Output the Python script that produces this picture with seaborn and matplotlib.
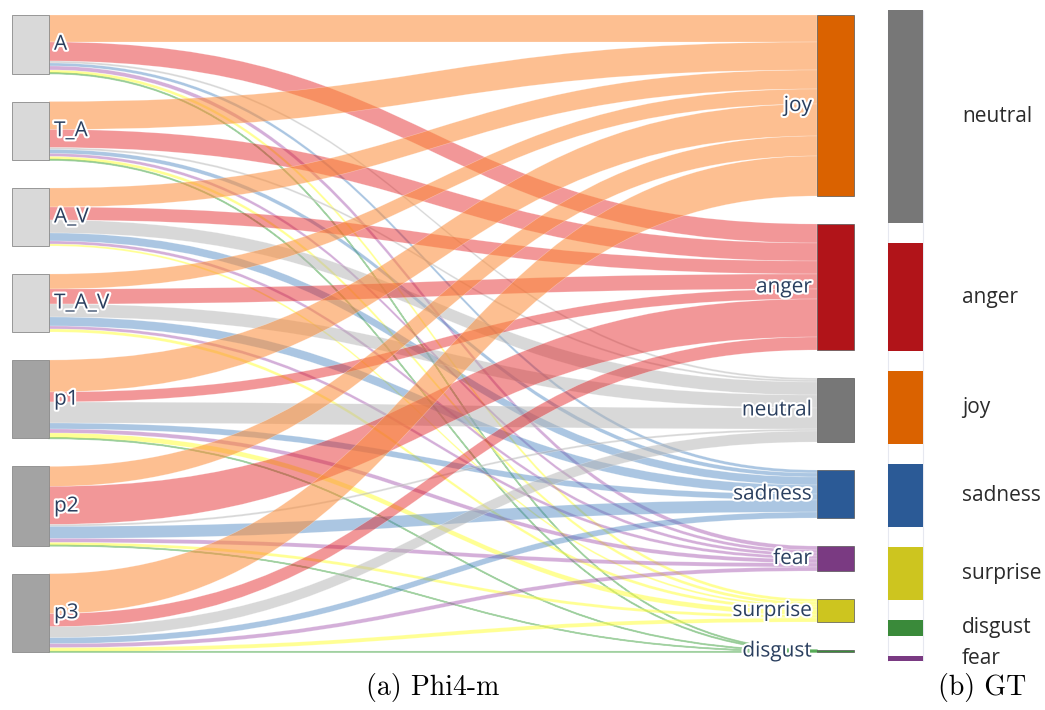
import matplotlib
matplotlib.use("Agg")
import numpy as np
import pandas as pd
import matplotlib.pyplot as plt
from matplotlib.path import Path
from matplotlib.patches import PathPatch
import matplotlib.patheffects as pe
import seaborn as sns

# ---- data -------------------------------------------------------------
sources = ["A", "T_A", "A_V", "T_A_V", "p1", "p2", "p3"]
targets = ["joy", "anger", "neutral", "sadness", "fear", "surprise", "disgust"]

# predicted emotion counts per input setting (ordered as `sources`)
joy      = [27, 28, 19, 15, 32, 20, 40]
anger    = [19, 18, 13, 15, 10, 38, 13]
neutral  = [2, 2, 13, 13, 21, 2, 11]
sadness  = [3, 4, 8, 9, 6, 12, 6]
fear     = [4, 3, 3, 3, 4, 4, 4]
surprise = [3, 3, 2, 3, 5, 3, 4]
disgust  = [0.5, 0.5, 0, 0, 0.4, 0.3, 0.3]

# ground-truth label distribution
gt_labels = ["neutral", "anger", "joy", "sadness", "surprise", "disgust", "fear"]
gt_counts = [213, 108, 73, 63, 53, 16, 5]

flow_table = {"joy": joy, "anger": anger, "neutral": neutral, "sadness": sadness,
              "fear": fear, "surprise": surprise, "disgust": disgust}
flows = pd.DataFrame(
    [(s, t, flow_table[t][i]) for i, s in enumerate(sources) for t in targets],
    columns=["source", "target", "value"])

# ---- styling ----------------------------------------------------------
sns.set_theme(style="white")
plt.rcParams["font.family"] = ["Open Sans", "DejaVu Sans"]

node_color = {"joy": "#da6200", "anger": "#b11419", "neutral": "#777777",
              "sadness": "#2b5a96", "fear": "#7a3a82", "surprise": "#cdc51f",
              "disgust": "#3a8a3a"}
link_color = {"joy": (0.99, 0.55, 0.22, 0.55), "anger": (0.89, 0.10, 0.11, 0.45),
              "neutral": (0.70, 0.70, 0.70, 0.50), "sadness": (0.27, 0.51, 0.75, 0.45),
              "fear": (0.63, 0.31, 0.67, 0.45), "surprise": (1.0, 1.0, 0.24, 0.55),
              "disgust": (0.30, 0.66, 0.30, 0.45)}
src_color = {s: ("#d9d9d9" if s.startswith(("A", "T")) else "#a3a3a3") for s in sources}
label_fx = [pe.withStroke(linewidth=3, foreground="white")]
label_kw = dict(fontsize=15, color="#2a3f5f", path_effects=label_fx, zorder=6)

fig = plt.figure(figsize=(10.45, 7.1), dpi=100)
ax = fig.add_axes([0, 0, 1, 1])
ax.set_xlim(0, 1045)
ax.set_ylim(710, 0)
ax.axis("off")

# ---- sankey layout ----------------------------------------------------
top, bottom, pad = 15, 652, 28
x_left, x_right, node_w = 12, 817, 37

src_tot = flows.groupby("source", sort=False)["value"].sum().reindex(sources)
tgt_tot = flows.groupby("target", sort=False)["value"].sum().reindex(targets)
scale = (bottom - top - pad * (len(sources) - 1)) / src_tot.sum()


def stack(totals, y_start):
    pos, y = {}, y_start
    for name, v in totals.items():
        pos[name] = y
        y += v * scale + pad
    return pos


src_y = stack(src_tot, top)
tgt_y = stack(tgt_tot, top)

# running offsets inside each node
src_off = dict(src_y)
tgt_off = dict(tgt_y)
link_y = {}
for s in sources:
    for t in targets:
        v = flows.loc[(flows.source == s) & (flows.target == t), "value"].iloc[0]
        h = v * scale
        link_y[(s, t)] = [src_off[s], src_off[s] + h]
        src_off[s] += h
for t in targets:
    for s in sources:
        a, b = link_y[(s, t)]
        h = b - a
        link_y[(s, t)] += [tgt_off[t], tgt_off[t] + h]
        tgt_off[t] += h

x0, x1 = x_left + node_w, x_right
xm = (x0 + x1) / 2
for s in sources:
    for t in targets:
        sy0, sy1, ty0, ty1 = link_y[(s, t)]
        if sy1 - sy0 <= 0:
            continue
        verts = [(x0, sy0), (xm, sy0), (xm, ty0), (x1, ty0), (x1, ty1),
                 (xm, ty1), (xm, sy1), (x0, sy1), (x0, sy0)]
        codes = [Path.MOVETO, Path.CURVE4, Path.CURVE4, Path.CURVE4, Path.LINETO,
                 Path.CURVE4, Path.CURVE4, Path.CURVE4, Path.CLOSEPOLY]
        thin = (sy1 - sy0) < 1.5
        edge = link_color[t] if thin else (1, 1, 1, 0.35)
        ax.add_patch(PathPatch(Path(verts, codes), facecolor=link_color[t],
                               edgecolor=edge, lw=1.1 if thin else 0.4, zorder=2))

# nodes
for s in sources:
    h = src_tot[s] * scale
    ax.bar(x_left + node_w / 2, h, bottom=src_y[s], width=node_w,
           color=src_color[s], edgecolor="#8a8a8a", lw=0.6, zorder=4)
    ax.text(x0 + 5, src_y[s] + h / 2, s, ha="left", va="center", **label_kw)
for t in targets:
    h = max(tgt_tot[t] * scale, 1.5)
    ax.bar(x_right + node_w / 2, h, bottom=tgt_y[t], width=node_w,
           color=node_color[t], edgecolor="#555555", lw=0.5, zorder=4)
    ax.text(x_right - 5, tgt_y[t] + h / 2, t, ha="right", va="center", **label_kw)

# ---- ground-truth column ---------------------------------------------
gt_top, gt_bottom, gt_pad = 10, 661, 20
gt_x, gt_w = 888, 35
gt_scale = (gt_bottom - gt_top - gt_pad * (len(gt_counts) - 1)) / sum(gt_counts)
ax.vlines([gt_x, gt_x + gt_w], gt_top, gt_bottom, color="#e6e8f0", lw=0.8, zorder=1)
y = gt_top
for lab, c in zip(gt_labels, gt_counts):
    h = c * gt_scale
    ax.bar(gt_x + gt_w / 2, h, bottom=y, width=gt_w, color=node_color[lab],
           edgecolor="none", zorder=3)
    ax.text(962, y + h / 2, lab, ha="left", va="center", fontsize=15,
            color="#2b2b2b", zorder=6)
    y += h + gt_pad

# ---- captions ---------------------------------------------------------
cap_kw = dict(fontsize=20, family="cmr10", ha="center", va="center", color="black")
ax.text(433, 688, "(a) Phi4-m", **cap_kw)
ax.text(982, 688, "(b) GT", **cap_kw)

fig.savefig("out.png", dpi=100)
